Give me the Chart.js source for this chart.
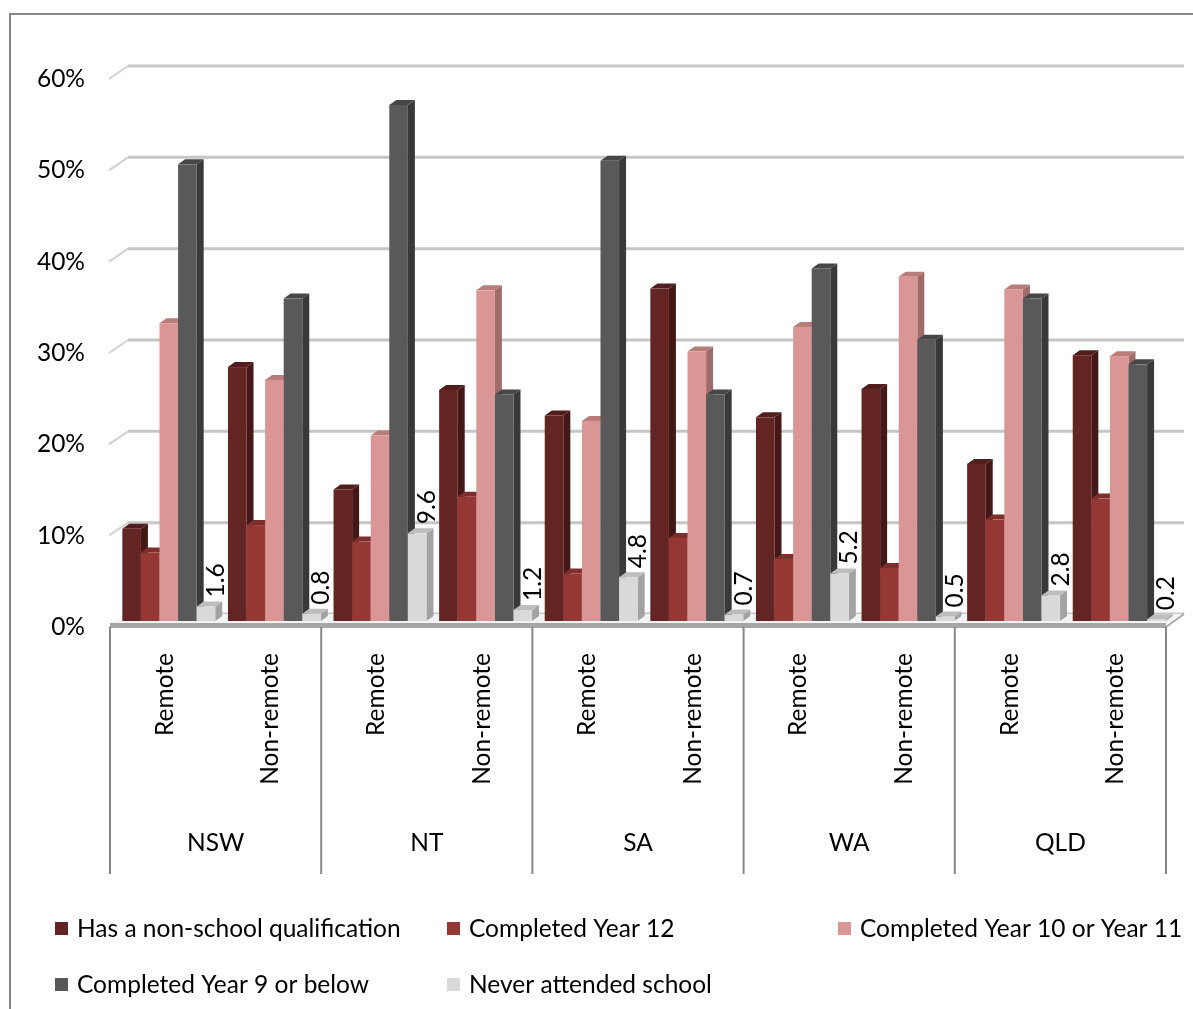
<!DOCTYPE html>
<html>
<head>
<meta charset="utf-8">
<script src="https://cdn.jsdelivr.net/npm/chart.js@4.4.1/dist/chart.umd.min.js"></script>
<style>
  html, body { margin: 0; padding: 0; background: #fff; overflow: hidden; }
  canvas { display: block; }
</style>
</head>
<body>
<canvas id="myChart" width="1193" height="1009"></canvas>
<script>
const categories = ['Remote', 'Non-remote', 'Remote', 'Non-remote', 'Remote', 'Non-remote', 'Remote', 'Non-remote', 'Remote', 'Non-remote'];
const states = ['NSW', 'NT', 'SA', 'WA', 'QLD'];

const nonSchoolQual = [10.1, 27.8, 14.4, 25.3, 22.5, 36.4, 22.3, 25.4, 17.2, 29.1];
const year12 = [7.5, 10.5, 8.7, 13.6, 5.2, 9.1, 6.8, 5.8, 11.1, 13.4];
const year10or11 = [32.6, 26.4, 20.3, 36.2, 21.9, 29.5, 32.2, 37.7, 36.3, 29.0];
const year9orBelow = [50.0, 35.3, 56.5, 24.8, 50.4, 24.8, 38.6, 30.8, 35.3, 28.1];
const neverAttended = [1.6, 0.8, 9.6, 1.2, 4.8, 0.7, 5.2, 0.5, 2.8, 0.2];

const yTicks = [0, 10, 20, 30, 40, 50, 60];

const FONT = '24.5px Lato, "Open Sans", sans-serif';
const DX = 7, DY = 5;          // bar depth
const WALL_X = 12, WALL_Y = 7; // bar plane -> back wall
const FRONT_X = 6, FRONT_Y = 6; // bar plane -> front edge

// front, side, top shades per series
const shades = [
    ['#632523', '#431817', '#521e1d'],
    ['#953735', '#6c2827', '#7e2e2c'],
    ['#d99694', '#a06c6b', '#b87d7b'],
    ['#595959', '#393939', '#474747'],
    ['#d9d9d9', '#a3a3a3', '#bdbdbd'],
];

const seriesNames = [
    'Has a non-school qualification',
    'Completed Year 12',
    'Completed Year 10 or Year 11',
    'Completed Year 9 or below',
    'Never attended school',
];

function poly(ctx, pts, fill) {
    ctx.beginPath();
    ctx.moveTo(pts[0][0], pts[0][1]);
    for (let k = 1; k < pts.length; k++) ctx.lineTo(pts[k][0], pts[k][1]);
    ctx.closePath();
    ctx.fillStyle = fill;
    ctx.fill();
}

const backdrop = {
    id: 'backdrop',
    beforeDraw(chart) {
        const ctx = chart.ctx;
        const area = chart.chartArea;
        const yScale = chart.scales.y;
        ctx.save();
        ctx.fillStyle = '#fff';
        ctx.fillRect(0, 0, chart.width, chart.height);

        // outer border
        ctx.strokeStyle = '#878787';
        ctx.lineWidth = 2;
        ctx.strokeRect(10, 14, 1400, 1200);

        // back wall gridlines with the short side-wall diagonal
        yTicks.forEach(v => {
            const y = yScale.getPixelForValue(v);
            ctx.strokeStyle = '#d2d2d2';
            ctx.lineWidth = 2;
            ctx.beginPath();
            ctx.moveTo(area.left - FRONT_X - 1, y + FRONT_Y);
            ctx.lineTo(area.left + WALL_X, y - WALL_Y);
            ctx.stroke();
            ctx.strokeStyle = '#c6c6c6';
            ctx.lineWidth = 3;
            ctx.beginPath();
            ctx.moveTo(area.left + WALL_X, y - WALL_Y);
            ctx.lineTo(area.right + WALL_X, y - WALL_Y);
            ctx.stroke();
        });

        // floor
        const y0 = yScale.getPixelForValue(0);
        poly(ctx, [
            [area.left - FRONT_X, y0 + 2],
            [area.right - FRONT_X, y0 + 2],
            [area.right + WALL_X, y0 - WALL_Y],
            [area.left + WALL_X, y0 - WALL_Y],
        ], '#f3f3f3');
        ctx.strokeStyle = '#a8a8a8';
        ctx.lineWidth = 2;
        ctx.beginPath();
        ctx.moveTo(area.right - FRONT_X, y0 + FRONT_Y);
        ctx.lineTo(area.right + WALL_X, y0 - WALL_Y);
        ctx.stroke();
        ctx.restore();
    },
    beforeDatasetsDraw(chart) {
        const ctx = chart.ctx;
        ctx.save();
        for (let i = 0; i < categories.length; i++) {
            chart.data.datasets.forEach((ds, d) => {
                const bar = chart.getDatasetMeta(d).data[i];
                const {x, y, base, width} = bar.getProps(['x', 'y', 'base', 'width'], true);
                const l = x - width / 2, r = x + width / 2;
                const [front, side, top] = shades[d];
                poly(ctx, [[r, y], [r + DX, y - DY], [r + DX, base - DY], [r, base]], side);
                poly(ctx, [[l, y], [l + DX, y - DY], [r + DX, y - DY], [r, y]], top);
                ctx.fillStyle = front;
                ctx.fillRect(l, y, width, base - y);
            });
        }
        ctx.restore();
        return false;
    },
    afterDraw(chart) {
        const ctx = chart.ctx;
        const area = chart.chartArea;
        const xScale = chart.scales.x;
        const yScale = chart.scales.y;
        const y0 = yScale.getPixelForValue(0);
        ctx.save();

        // front edge of the floor / category axis line
        ctx.fillStyle = '#a6a6a6';
        ctx.fillRect(area.left - FRONT_X, y0 + 2, area.right - area.left, 5);

        ctx.font = FONT;
        ctx.fillStyle = '#000';

        // value axis labels
        ctx.textAlign = 'right';
        ctx.textBaseline = 'middle';
        yTicks.forEach(v => {
            ctx.fillText(v + '%', 85, yScale.getPixelForValue(v) + FRONT_Y);
        });

        // group separators and state labels
        const bounds = [];
        for (let k = 0; k <= states.length; k++) {
            let bx;
            if (k === 0) bx = area.left;
            else if (k === states.length) bx = area.right;
            else bx = (xScale.getPixelForValue(2 * k - 1) + xScale.getPixelForValue(2 * k)) / 2;
            bounds.push(bx - FRONT_X);
        }
        ctx.strokeStyle = '#878787';
        ctx.lineWidth = 2;
        bounds.forEach(bx => {
            ctx.beginPath();
            ctx.moveTo(bx, y0 + 6);
            ctx.lineTo(bx, 874);
            ctx.stroke();
        });
        ctx.textAlign = 'center';
        states.forEach((s, k) => {
            ctx.fillText(s, (bounds[k] + bounds[k + 1]) / 2, 843);
        });

        // rotated category labels
        categories.forEach((c, i) => {
            const x = xScale.getPixelForValue(i) - 4;
            ctx.save();
            ctx.translate(x, 653);
            ctx.rotate(-Math.PI / 2);
            ctx.textAlign = 'right';
            ctx.fillText(c, 0, 0);
            ctx.restore();
        });

        // value labels on the last series
        const meta = chart.getDatasetMeta(4);
        meta.data.forEach((bar, i) => {
            const {x, y} = bar.getProps(['x', 'y'], true);
            ctx.save();
            ctx.translate(x + 10, y - DY - 4);
            ctx.rotate(-Math.PI / 2);
            ctx.textAlign = 'left';
            ctx.fillText(neverAttended[i].toFixed(1), 0, 0);
            ctx.restore();
        });

        // legend in a three-column grid
        const cols = [55, 447, 838];
        const rows = [929, 985];
        ctx.textAlign = 'left';
        seriesNames.forEach((name, n) => {
            const cx = cols[n % 3];
            const cy = rows[Math.floor(n / 3)];
            ctx.fillStyle = shades[n][0];
            ctx.fillRect(cx, cy - 7, 13, 13);
            ctx.fillStyle = '#000';
            ctx.fillText(name, cx + 22, cy);
        });
        ctx.restore();
    }
};

const ctx = document.getElementById('myChart');
const datasets = [nonSchoolQual, year12, year10or11, year9orBelow, neverAttended].map((values, d) => ({
    label: seriesNames[d],
    data: values,
    backgroundColor: shades[d][0],
    categoryPercentage: 0.88,
    barPercentage: 1.0,
}));

new Chart(ctx, {
    type: 'bar',
    data: {
        labels: categories,
        datasets: datasets
    },
    options: {
        responsive: false,
        animation: false,
        layout: {
            padding: {left: 116, right: 21, top: 73, bottom: 388}
        },
        plugins: {
            legend: {display: false},
            tooltip: {enabled: false}
        },
        scales: {
            x: {display: false, offset: true},
            y: {display: false, min: 0, max: 60, ticks: {stepSize: 10}}
        }
    },
    plugins: [backdrop]
});
</script>
</body>
</html>
